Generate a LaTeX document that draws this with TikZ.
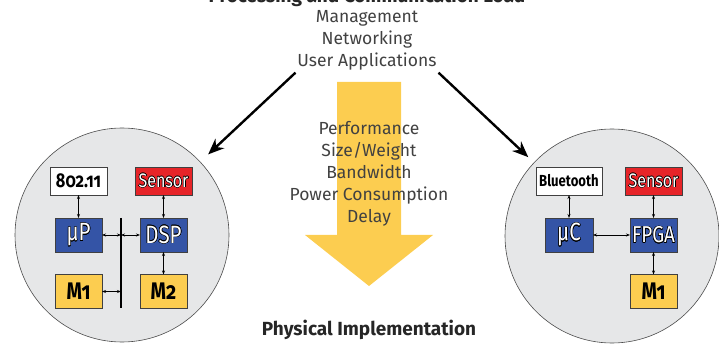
\documentclass[tikz,border=0pt]{standalone}
\usepackage{fontspec}
\setmainfont{Fira Sans}
\newfontfamily\boxfont[Numbers=OldStyle,FakeStretch=0.82]{Fira Sans}
\usepackage{contour}
\contourlength{0.5pt}
\usetikzlibrary{positioning,arrows.meta}
\definecolor{chipblue}{RGB}{52,84,166}
\definecolor{sensred}{RGB}{230,36,40}
\definecolor{memyellow}{RGB}{252,205,80}
\definecolor{discgray}{RGB}{230,231,232}
\definecolor{txtgray}{RGB}{65,65,65}
\newcommand{\outl}[1]{{\color{white}\contour{black}{#1}}}

\begin{document}
\begin{tikzpicture}[x=1pt,y=-1pt,
                    every node/.style={inner sep=0pt,outer sep=0pt},
                    txt/.style={font=\fontsize{17.5}{22}\selectfont,text=txtgray},
                    head/.style={font=\bfseries\fontsize{19}{22}\selectfont,text=black!85},
                    disc/.style={circle,draw=black!70,fill=discgray,line width=0.6pt,minimum size=214pt},
                    chip/.style={draw=black!75,line width=0.5pt,minimum width=47pt,minimum height=34pt,font=\boxfont\fontsize{25}{25}\selectfont},
                    mem/.style={chip,fill=memyellow,font=\boxfont\bfseries\fontsize{24}{24}\selectfont},
                    tag/.style={draw=black!75,line width=0.5pt,minimum width=57pt,minimum height=28pt,font=\boxfont\fontsize{19.5}{19.5}\selectfont},
                    link/.style={{Stealth[length=4pt,width=3pt]}-{Stealth[length=4pt,width=3pt]},line width=0.7pt},
                    big/.style={-{Stealth[length=16pt,width=13pt]},line width=2.4pt}]
  \useasboundingbox (0,0) rectangle (719,344);
  % load on top
  \node[head,anchor=base] (load) at (367,3) {Processing and Communication Load};
  \node[txt] (mgmt) at (367,18) {Management};
  \node[txt] (netw) at (367,40) {Networking};
  \node[txt,inner sep=2pt] (apps) at (367,62) {User Applications};
  % yellow arrow
  \fill[memyellow] (337,82) -- (401,82) -- (401,235) -- (433,235) -- (369,286) -- (305,235) -- (337,235) -- cycle;
  \node[txt,align=center] (metrics) at (369,174) {Performance\\Size/Weight\\Bandwidth\\Power Consumption\\Delay};
  \node[head] (phys) at (369,330) {Physical Implementation};
  % left node
  \node[disc] (ldisc) at (122,235) {};
  \node[tag,fill=white,font=\boxfont\bfseries\fontsize{20}{20}\selectfont] (wlan) at (78.5,181) {802.11};
  \node[tag,fill=sensred] (lsens) at (163.5,181) {\outl{Sensor}};
  \node[chip,fill=chipblue] (up) at (78.5,235) {\outl{\textmu P}};
  \node[chip,fill=chipblue] (dsp) at (163.5,235) {\outl{DSP}};
  \node[mem] (lm1) at (78.5,291.5) {M1};
  \node[mem] (lm2) at (163.5,291.5) {M2};
  \coordinate (bustop) at (121,218);
  \coordinate (busbot) at (121,308);
  \draw[line width=1.8pt] (bustop) -- (busbot);
  \draw[link] (wlan) -- (up);
  \draw[link] (lsens) -- (dsp);
  \draw[link] (dsp) -- (lm2);
  \draw[link] (up.east) -- (up.east -| bustop);
  \draw[link] (dsp.west -| bustop) -- (dsp.west);
  \draw[link] (lm1.east) -- (lm1.east -| bustop);
  % right node
  \node[disc] (rdisc) at (612,236) {};
  \node[tag,fill=white,minimum width=66pt,font=\boxfont\bfseries\fontsize{16}{16}\selectfont] (bt) at (569,181) {Bluetooth};
  \node[tag,fill=sensred] (rsens) at (653.5,181) {\outl{Sensor}};
  \node[chip,fill=chipblue,minimum width=48pt] (uc) at (569,235) {\outl{\textmu C}};
  \node[chip,fill=chipblue,font=\boxfont\fontsize{23}{23}\selectfont] (fpga) at (653.5,235) {\outl{FPGA}};
  \node[mem] (rm1) at (653.5,291.5) {M1};
  \draw[link] (bt) -- (uc);
  \draw[link] (rsens) -- (fpga);
  \draw[link] (uc) -- (fpga);
  \draw[link] (fpga) -- (rm1);
  % load to the nodes
  \draw[big,shorten >=11pt] (apps.south west) -- (ldisc);
  \draw[big,shorten >=8pt] (apps.south east) -- (rdisc);
\end{tikzpicture}
\end{document}
